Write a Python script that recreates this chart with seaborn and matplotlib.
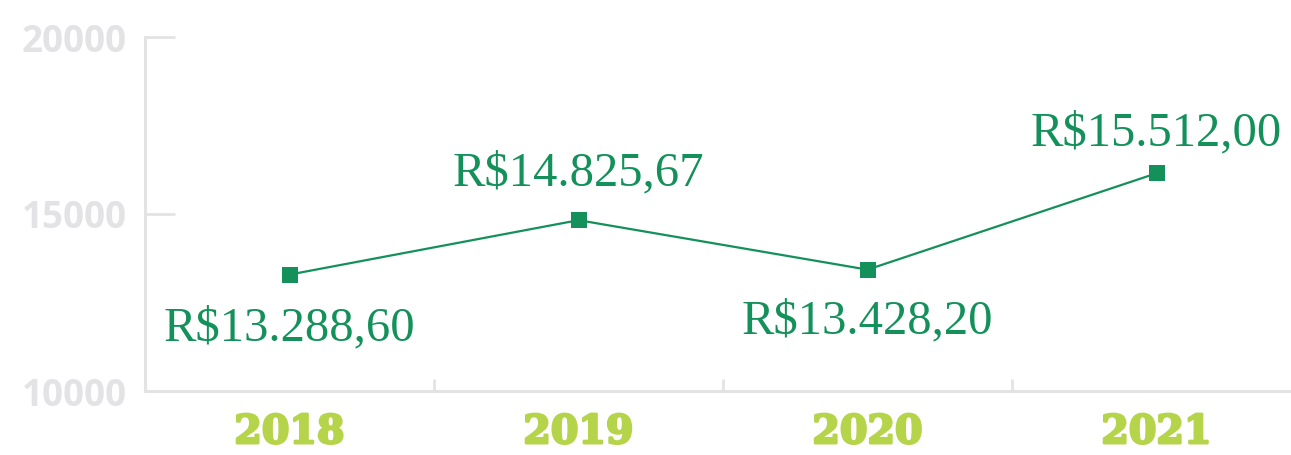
import matplotlib
matplotlib.use("Agg")
import matplotlib.pyplot as plt
import matplotlib.patheffects as pe
import seaborn as sns
import pandas as pd
from matplotlib.ticker import FixedLocator

years = ["2018", "2019", "2020", "2021"]
values = [13288.60, 14825.67, 13428.20, 16150.00]
value_labels = ["R$13.288,60", "R$14.825,67", "R$13.428,20", "R$15.512,00"]
label_offsets_px = [-54, 47, -52, 40]
yticks = [10000, 15000, 20000]

sns.set_theme(style="white")
plt.rcParams["font.family"] = ["DejaVu Sans"]

GREEN = "#14915a"
LIME = "#b5d44a"
GRAY = "#e3e3e5"

fig = plt.figure(figsize=(12.91, 4.55), dpi=100)
ax = fig.add_axes([145 / 1291, 1 - 391 / 455, 1156 / 1291, 354 / 455])

df = pd.DataFrame({"year": years, "value": values})
sns.lineplot(data=df, x="year", y="value", ax=ax, color=GREEN, linewidth=1.6,
             marker="s", markersize=11, markeredgewidth=0, sort=False)

ax.set_xlim(-0.5, 3.5)
ax.set_ylim(10000, 20000)
ax.set_xlabel("")
ax.set_ylabel("")

for i, (v, lab, off) in enumerate(zip(values, value_labels, label_offsets_px)):
    ax.annotate(lab, (i, v), xytext=(0, off), textcoords="offset pixels",
                ha="center", va="center", color=GREEN, fontsize=35,
                family=["Liberation Serif"])

for s in ["top", "right"]:
    ax.spines[s].set_visible(False)
for s in ["left", "bottom"]:
    ax.spines[s].set_color(GRAY)
    ax.spines[s].set_linewidth(2.2)

ax.set_yticks(yticks)
ax.set_yticklabels([str(t) for t in yticks])
ax.tick_params(axis="y", direction="in", length=21.5, width=2.0, color=GRAY,
               labelcolor=GRAY, labelsize=26.5, pad=13, left=True)
for t in ax.get_yticklabels():
    t.set_fontfamily(["Open Sans"])
    t.set_fontweight("bold")

ax.set_xticks(range(len(years)))
ax.set_xticklabels(years)
ax.tick_params(axis="x", which="major", length=0, labelcolor=LIME, labelsize=28.5, pad=16)
for t in ax.get_xticklabels():
    t.set_fontfamily(["DejaVu Serif"])
    t.set_fontweight("bold")
    t.set_path_effects([pe.withStroke(linewidth=1.8, foreground=LIME)])
ax.xaxis.set_minor_locator(FixedLocator([0.5, 1.5, 2.5]))
ax.tick_params(axis="x", which="minor", direction="in", length=8.5, width=2.0,
               color=GRAY, bottom=True)

ax.grid(False)
fig.savefig("out.png", dpi=100)
